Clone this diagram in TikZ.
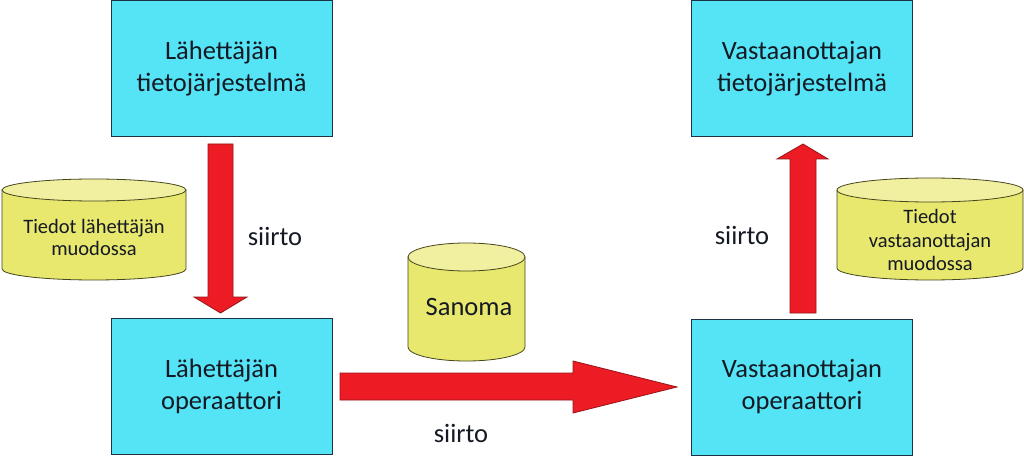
\documentclass[tikz,border=0pt]{standalone}
\usepackage{fontspec}
\setmainfont{Carlito}
\definecolor{boxcyan}{RGB}{85,228,245}
\definecolor{boxline}{RGB}{30,50,70}
\definecolor{cylbody}{RGB}{232,232,110}
\definecolor{cyltop}{RGB}{240,240,160}
\definecolor{cylline}{RGB}{70,70,30}
\definecolor{arrred}{RGB}{237,28,36}
\definecolor{arrline}{RGB}{150,20,25}
\definecolor{txt}{RGB}{20,25,35}
\begin{document}
\begin{tikzpicture}[x=1pt,y=1pt,
  sysbox/.style={draw=boxline,line width=1pt,fill=boxcyan,minimum width=221pt,minimum height=136pt,inner sep=0pt,align=center,text=txt,font=\fontsize{26.5}{32}\selectfont},
  cyl/.style={draw=cylline,line width=0.8pt,fill=cylbody},
  cyltopst/.style={draw=cylline,line width=0.8pt,fill=cyltop},
  redarrow/.style={draw=arrline,line width=0.8pt,fill=arrred,line join=miter},
  lbl/.style={text=txt,inner sep=0pt,font=\fontsize{26.5}{30}\selectfont},
  cyltext/.style={text=txt,inner sep=0pt,align=center}]
\useasboundingbox (0,0) rectangle (1024,466);
\fill[white] (0,0) rectangle (1024,466);
% boxes
\node[sysbox] (ls) at (221.5,397) {Lähettäjän\\tietojärjestelmä};
\node[sysbox] (lo) at (221.5,79.5) {Lähettäjän\\operaattori};
\node[sysbox] (vs) at (802,397) {Vastaanottajan\\tietojärjestelmä};
\node[sysbox] (vo) at (802,79) {Vastaanottajan\\operaattori};
% left cylinder
\filldraw[cyl] (2,276) -- (2,197) arc[start angle=180,end angle=360,x radius=92pt,y radius=11pt] -- (186,276) -- cycle;
\filldraw[cyltopst] (94,276) ellipse[x radius=92pt,y radius=11pt];
\node[cyltext,font=\fontsize{20.5}{22}\selectfont] (ct1) at (94,229) {Tiedot lähettäjän\\muodossa};
% Sanoma cylinder
\filldraw[cyl] (408,209) -- (408,119) arc[start angle=180,end angle=360,x radius=58.5pt,y radius=14pt] -- (525,209) -- cycle;
\filldraw[cyltopst] (466.5,209) ellipse[x radius=58.5pt,y radius=14pt];
\node[cyltext,font=\fontsize{26.5}{30}\selectfont] (ct2) at (469,159) {Sanoma};
% right cylinder
\filldraw[cyl] (837,276) -- (837,198) arc[start angle=180,end angle=360,x radius=93pt,y radius=12pt] -- (1023,276) -- cycle;
\filldraw[cyltopst] (930,276) ellipse[x radius=93pt,y radius=12pt];
\node[cyltext,font=\fontsize{20.5}{23.5}\selectfont] (ct3) at (930,226) {Tiedot\\vastaanottajan\\muodossa};
% arrows
\filldraw[redarrow] (208,322) -- (233,322) -- (233,169) -- (247,169) -- (220.5,153) -- (194,169) -- (208,169) -- cycle;
\filldraw[redarrow] (340,93) -- (573,93) -- (573,105) -- (677,79) -- (573,53) -- (573,66) -- (340,66) -- cycle;
\filldraw[redarrow] (790,153) -- (816,153) -- (816,307) -- (828,307) -- (803,322) -- (777,307) -- (790,307) -- cycle;
% labels
\node[lbl] (s1) at (275,230) {siirto};
\node[lbl] (s2) at (461,33) {siirto};
\node[lbl] (s3) at (742,231) {siirto};
\end{tikzpicture}
\end{document}
